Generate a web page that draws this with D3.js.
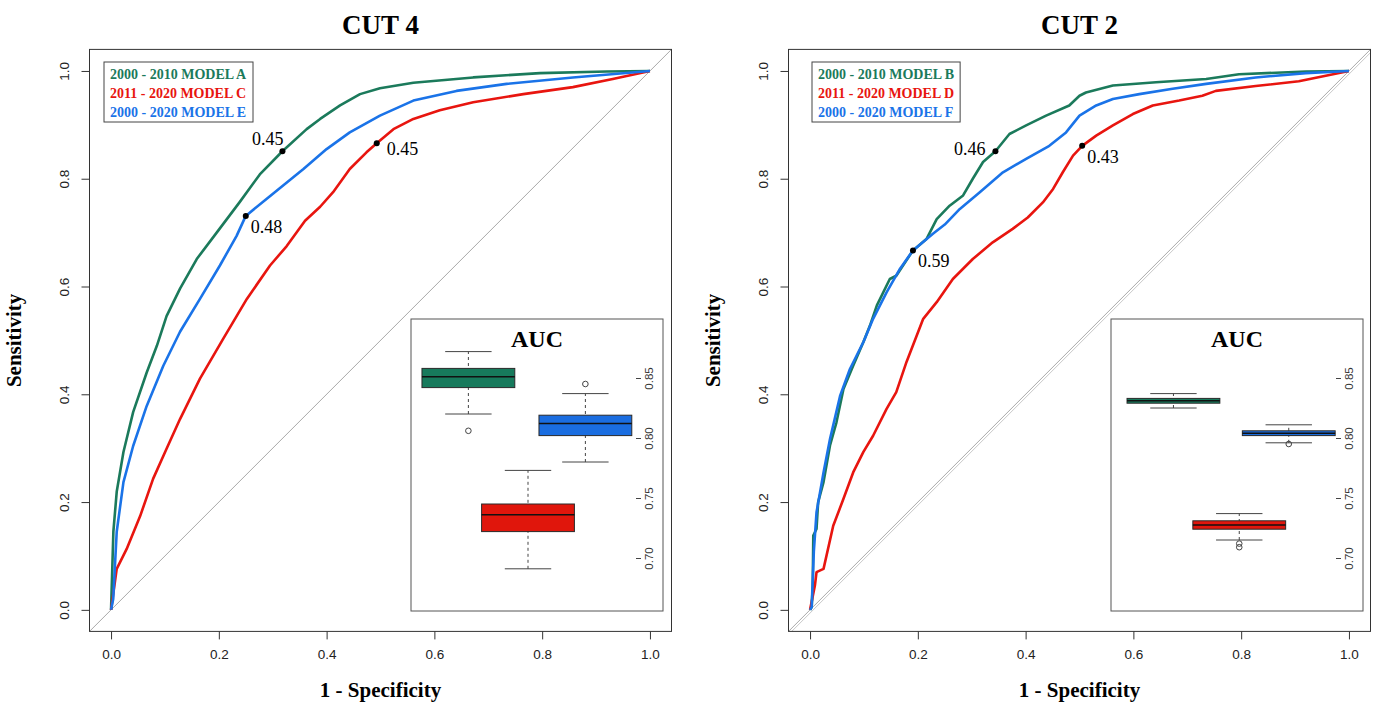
<!DOCTYPE html>
<html>
<head>
<meta charset="utf-8">
<script src="https://cdn.jsdelivr.net/npm/d3@7/dist/d3.min.js"></script>
<style>
  body { margin: 0; background: #fff; }
  svg { display: block; }
</style>
</head>
<body>
<div id="chart_container"></div>
<script>
// ROC points: [1 - specificity, sensitivity]
// CUT 4
var roc_A = [[0,0],[0.0043,0.145],[0.0105,0.219],[0.023,0.293],[0.041,0.367],[0.066,0.44],[0.085,0.49],
    [0.103,0.545],[0.128,0.596],[0.159,0.651],[0.196,0.70],[0.239,0.757],[0.276,0.808],[0.318,0.851],
    [0.363,0.892],[0.388,0.911],[0.425,0.936],[0.462,0.957],[0.499,0.968],[0.561,0.978],[0.672,0.988],
    [0.796,0.996],[0.92,0.999],[1,1]];
var roc_C = [[0,0],[0.0105,0.076],[0.029,0.113],[0.054,0.174],[0.078,0.243],[0.103,0.299],[0.128,0.354],
    [0.165,0.429],[0.208,0.503],[0.252,0.577],[0.295,0.639],[0.326,0.675],[0.36,0.722],[0.388,0.748],
    [0.412,0.775],[0.443,0.818],[0.474,0.849],[0.493,0.866],[0.524,0.892],[0.561,0.911],[0.610,0.927],
    [0.672,0.942],[0.765,0.957],[0.857,0.970],[0.931,0.985],[1,1]];
var roc_E = [[0,0],[0.004,0.02],[0.0105,0.145],[0.023,0.237],[0.041,0.304],[0.066,0.378],[0.097,0.453],
    [0.128,0.516],[0.165,0.577],[0.202,0.639],[0.233,0.694],[0.25,0.731],[0.289,0.763],[0.357,0.818],
    [0.400,0.855],[0.443,0.886],[0.499,0.917],[0.561,0.945],[0.641,0.963],[0.734,0.976],[0.857,0.988],[1,1]];
// CUT 2
var roc_B = [[0,0],[0.003,0.005],[0.005,0.045],[0.006,0.138],[0.012,0.15],[0.015,0.2],[0.025,0.237],
    [0.037,0.305],[0.049,0.348],[0.062,0.41],[0.08,0.453],[0.099,0.497],[0.111,0.527],[0.124,0.565],
    [0.148,0.614],[0.16,0.62],[0.191,0.667],[0.216,0.688],[0.235,0.725],[0.259,0.75],[0.284,0.769],
    [0.302,0.80],[0.321,0.831],[0.344,0.851],[0.370,0.883],[0.401,0.899],[0.438,0.917],[0.481,0.936],
    [0.5,0.954],[0.512,0.96],[0.562,0.973],[0.642,0.979],[0.735,0.985],[0.796,0.994],[0.92,0.999],[1,1]];
var roc_D = [[0,0],[0.009,0.045],[0.012,0.07],[0.025,0.076],[0.043,0.156],[0.062,0.206],[0.08,0.255],
    [0.099,0.293],[0.117,0.323],[0.142,0.373],[0.16,0.404],[0.179,0.46],[0.198,0.509],[0.21,0.54],
    [0.235,0.571],[0.265,0.614],[0.302,0.651],[0.339,0.682],[0.376,0.707],[0.404,0.728],[0.432,0.756],
    [0.451,0.781],[0.469,0.812],[0.488,0.843],[0.505,0.861],[0.531,0.88],[0.562,0.899],[0.599,0.92],
    [0.636,0.936],[0.685,0.945],[0.728,0.954],[0.753,0.963],[0.827,0.972],[0.907,0.981],[1,1]];
var roc_F = [[0,0],[0.003,0.005],[0.007,0.108],[0.012,0.181],[0.025,0.255],[0.037,0.317],[0.056,0.398],
    [0.074,0.447],[0.099,0.497],[0.117,0.54],[0.142,0.589],[0.167,0.633],[0.191,0.667],[0.228,0.698],
    [0.25,0.715],[0.278,0.744],[0.315,0.775],[0.358,0.812],[0.401,0.837],[0.444,0.861],[0.475,0.886],
    [0.5,0.917],[0.531,0.936],[0.562,0.948],[0.611,0.957],[0.673,0.967],[0.735,0.976],[0.827,0.988],
    [0.92,0.996],[1,1]];

var model_names_cut4 = ["2000 - 2010 MODEL A", "2011 - 2020 MODEL C", "2000 - 2020 MODEL E"];
var model_names_cut2 = ["2000 - 2010 MODEL B", "2011 - 2020 MODEL D", "2000 - 2020 MODEL F"];
var model_colors = ["#1b7a5b", "#e8150f", "#1a73e8"];
var box_colors = ["#177a5c", "#e0160c", "#1a6de0"];

var roc_ticks = [0, 0.2, 0.4, 0.6, 0.8, 1.0];
var auc_ticks = [0.70, 0.75, 0.80, 0.85];

// best thresholds printed on the curves
var thres_cut4 = [
    {fpr: 0.318, tpr: 0.851, label: "0.45", pos: "ul"},
    {fpr: 0.493, tpr: 0.866, label: "0.45", pos: "r"},
    {fpr: 0.250, tpr: 0.731, label: "0.48", pos: "dr"}
];
var thres_cut2 = [
    {fpr: 0.344, tpr: 0.851, label: "0.46", pos: "l"},
    {fpr: 0.505, tpr: 0.861, label: "0.43", pos: "dr"},
    {fpr: 0.191, tpr: 0.667, label: "0.59", pos: "dr"}
];

// AUC boxplots: [lower whisker, q1, median, q3, upper whisker], outliers, box position
var auc_stats_cut4 = [[0.820, 0.842, 0.851, 0.858, 0.872], [0.691, 0.722, 0.736, 0.745, 0.773], [0.780, 0.802, 0.812, 0.819, 0.837]];
var auc_out_cut4 = [[0.806], [], [0.845]];
var auc_at_cut4 = [1.02, 2.08, 3.10];
var auc_stats_cut2 = [[0.825, 0.829, 0.831, 0.833, 0.837], [0.715, 0.724, 0.7275, 0.731, 0.737], [0.796, 0.802, 0.804, 0.806, 0.811]];
var auc_out_cut2 = [[], [0.712, 0.709], [0.795]];
var auc_at_cut2 = [1.11, 2.28, 3.16];

// identity line(s), as intercepts
var diag_cut4 = [0];
var diag_cut2 = [0, -0.006];

var SERIF = "'Liberation Serif', 'Times New Roman', serif";
var SANS = "'Liberation Sans', Arial, sans-serif";

var svg = d3.select("#chart_container")
    .append("svg")
    .attr("width", 1380)
    .attr("height", 708);

var panels = [
    {title: "CUT 4", left: 89.5, legend_x: 104, curves: [roc_A, roc_C, roc_E], names: model_names_cut4,
     thres: thres_cut4, stats: auc_stats_cut4, outs: auc_out_cut4, at: auc_at_cut4, diag: diag_cut4, inset_x: 411},
    {title: "CUT 2", left: 788.5, legend_x: 812, curves: [roc_B, roc_D, roc_F], names: model_names_cut2,
     thres: thres_cut2, stats: auc_stats_cut2, outs: auc_out_cut2, at: auc_at_cut2, diag: diag_cut2, inset_x: 1111}
];

panels.forEach(function(p) { draw_roc_panel(p); });

function draw_roc_panel(p) {
    var size = 582, top = 49.4;
    var g = svg.append("g").attr("transform", "translate(" + p.left + "," + top + ")");
    var clip_id = "clip_" + p.title.replace(" ", "");

    var x = d3.scaleLinear().domain([-0.04, 1.04]).range([0, size]);
    var y = d3.scaleLinear().domain([-0.04, 1.04]).range([size, 0]);

    g.append("clipPath").attr("id", clip_id)
        .append("rect").attr("width", size).attr("height", size);

    // chance line
    g.append("g").attr("clip-path", "url(#" + clip_id + ")")
        .selectAll("line")
        .data(p.diag)
        .enter()
        .append("line")
        .attr("x1", function(d) { return x(-0.04 - d); })
        .attr("y1", y(-0.04))
        .attr("x2", function(d) { return x(1.04 - d); })
        .attr("y2", y(1.04))
        .style("stroke", function(d, i) { return i == 0 ? "#a8a8a8" : "#c8c8c8"; })
        .style("stroke-width", 1);

    // roc curves
    var line = d3.line()
        .x(function(d) { return x(d[0]); })
        .y(function(d) { return y(d[1]); });

    g.selectAll("path.roc")
        .data(p.curves)
        .enter()
        .append("path")
        .attr("class", "roc")
        .attr("d", line)
        .attr("fill", "none")
        .style("stroke", function(d, i) { return model_colors[i]; })
        .style("stroke-width", 2.6)
        .style("stroke-linejoin", "round");

    // thresholds
    g.selectAll("circle.thres")
        .data(p.thres)
        .enter()
        .append("circle")
        .attr("class", "thres")
        .attr("cx", function(d) { return x(d.fpr); })
        .attr("cy", function(d) { return y(d.tpr); })
        .attr("r", 3)
        .attr("fill", "#000");

    var offs = {ul: [1, -6, "end"], r: [10, 12, "start"], dr: [5, 17, "start"], l: [-10, 4, "end"]};
    g.selectAll("text.thres")
        .data(p.thres)
        .enter()
        .append("text")
        .attr("class", "thres")
        .attr("x", function(d) { return x(d.fpr) + offs[d.pos][0]; })
        .attr("y", function(d) { return y(d.tpr) + offs[d.pos][1]; })
        .attr("text-anchor", function(d) { return offs[d.pos][2]; })
        .style("font-family", SERIF)
        .style("font-size", "18px")
        .text(function(d) { return d.label; });

    // frame
    g.append("rect")
        .attr("width", size).attr("height", size)
        .attr("fill", "none")
        .style("stroke", "#333").style("stroke-width", 1);

    // axes
    var xAxis = d3.axisBottom(x).tickValues(roc_ticks).tickFormat(d3.format(".1f")).tickSize(8).tickPadding(10);
    var yAxis = d3.axisLeft(y).tickValues(roc_ticks).tickFormat(d3.format(".1f")).tickSize(8);

    var gx = g.append("g").attr("transform", "translate(0," + size + ")").call(xAxis);
    var gy = g.append("g").call(yAxis);
    [gx, gy].forEach(function(a) {
        a.select(".domain").remove();
        a.selectAll("line").style("stroke", "#333");
        a.selectAll("text").style("font-family", SANS).style("font-size", "13.5px").style("fill", "#222");
    });
    gy.selectAll("text")
        .attr("x", null).attr("dy", null)
        .attr("text-anchor", "middle")
        .attr("transform", "translate(-21,0) rotate(-90)");

    // axis titles
    g.append("text")
        .attr("transform", "translate(" + (size / 2) + "," + (size + 66) + ")")
        .attr("text-anchor", "middle")
        .style("font-family", SERIF).style("font-weight", "bold").style("font-size", "21px")
        .text("1 - Specificity");

    g.append("text")
        .attr("transform", "translate(-69," + (size / 2) + ") rotate(-90)")
        .attr("text-anchor", "middle")
        .style("font-family", SERIF).style("font-weight", "bold").style("font-size", "21px")
        .text("Sensitivity");

    g.append("text")
        .attr("transform", "translate(" + (size / 2) + "," + (-15) + ")")
        .attr("text-anchor", "middle")
        .style("font-family", SERIF).style("font-weight", "bold").style("font-size", "27px")
        .text(p.title);

    draw_legend(p);
    draw_auc_inset(p);
}

function draw_legend(p) {
    var legend = svg.append("g")
        .attr("transform", "translate(" + p.legend_x + ",62)");

    var box = legend.append("rect")
        .attr("fill", "#fff")
        .style("stroke", "#444").style("stroke-width", 1);

    legend.selectAll("text")
        .data(p.names)
        .enter()
        .append("text")
        .attr("x", 6)
        .attr("y", function(d, i) { return 17 + i * 19; })
        .style("font-family", SERIF).style("font-weight", "bold").style("font-size", "14px")
        .style("fill", function(d, i) { return model_colors[i]; })
        .text(function(d) { return d; });

    var bb = legend.node().getBBox();
    box.attr("x", 0).attr("y", 0)
        .attr("width", bb.width + 12)
        .attr("height", 3 * 19 + 3);
}

function draw_auc_inset(p) {
    var w = 252, h = 292;
    var inset = svg.append("g").attr("transform", "translate(" + p.inset_x + ",319)");

    inset.append("rect")
        .attr("width", w).attr("height", h)
        .attr("fill", "#fff")
        .style("stroke", "#555").style("stroke-width", 1);

    inset.append("text")
        .attr("x", w / 2).attr("y", 28)
        .attr("text-anchor", "middle")
        .style("font-family", SERIF).style("font-weight", "bold").style("font-size", "24px")
        .text("AUC");

    var xb = d3.scaleLinear().domain([0, 4]).range([0, 225]);
    var yb = d3.scaleLinear().domain([0.70, 0.85]).range([239, 59]);
    var half = (xb(1.65) - xb(0)) / 2;

    // right-hand axis
    var ax = inset.append("g").attr("transform", "translate(225,0)")
        .call(d3.axisRight(yb).tickValues(auc_ticks).tickFormat(d3.format(".2f")).tickSize(5).tickPadding(4));
    ax.select(".domain").remove();
    ax.selectAll("line").style("stroke", "#444");
    ax.selectAll("text")
        .attr("x", null).attr("dy", null)
        .attr("text-anchor", "middle")
        .attr("transform", "translate(17,0) rotate(-90)")
        .style("font-family", SANS).style("font-size", "11.5px").style("fill", "#333");

    var boxes = inset.selectAll("g.box")
        .data(p.stats)
        .enter()
        .append("g")
        .attr("class", "box");

    // whiskers
    boxes.append("line")
        .attr("x1", function(d, i) { return xb(p.at[i]); })
        .attr("x2", function(d, i) { return xb(p.at[i]); })
        .attr("y1", function(d) { return yb(d[0]); })
        .attr("y2", function(d) { return yb(d[4]); })
        .style("stroke", "#444").style("stroke-dasharray", "3,3");
    [0, 4].forEach(function(k) {
        boxes.append("line")
            .attr("x1", function(d, i) { return xb(p.at[i]) - half / 2; })
            .attr("x2", function(d, i) { return xb(p.at[i]) + half / 2; })
            .attr("y1", function(d) { return yb(d[k]); })
            .attr("y2", function(d) { return yb(d[k]); })
            .style("stroke", "#444");
    });

    boxes.append("rect")
        .attr("x", function(d, i) { return xb(p.at[i]) - half; })
        .attr("y", function(d) { return yb(d[3]); })
        .attr("width", 2 * half)
        .attr("height", function(d) { return yb(d[1]) - yb(d[3]); })
        .attr("fill", function(d, i) { return box_colors[i]; })
        .style("stroke", "#2a2a2a").style("stroke-width", 1);

    boxes.append("line")
        .attr("x1", function(d, i) { return xb(p.at[i]) - half; })
        .attr("x2", function(d, i) { return xb(p.at[i]) + half; })
        .attr("y1", function(d) { return yb(d[2]); })
        .attr("y2", function(d) { return yb(d[2]); })
        .style("stroke", "#111").style("stroke-width", 1.5);

    boxes.each(function(d, i) {
        d3.select(this).selectAll("circle")
            .data(p.outs[i])
            .enter()
            .append("circle")
            .attr("cx", xb(p.at[i]))
            .attr("cy", function(v) { return yb(v); })
            .attr("r", 2.8)
            .attr("fill", "none")
            .style("stroke", "#444");
    });
}
</script>
</body>
</html>
